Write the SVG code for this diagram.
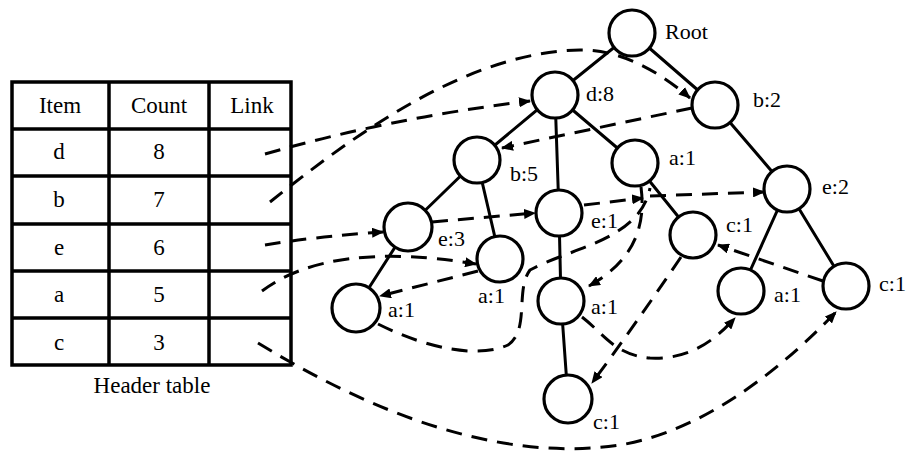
<svg xmlns="http://www.w3.org/2000/svg" width="908" height="452" viewBox="0 0 908 452">
<style>
.t{font-family:'Liberation Serif','DejaVu Serif',serif;font-size:23px;fill:#000}
.l{font-family:'Liberation Serif','DejaVu Serif',serif;font-size:22px;fill:#000}
.grid{stroke:#000;stroke-width:3.5;fill:none}
.edge{stroke:#000;stroke-width:3;fill:none}
.link{stroke:#000;stroke-width:3;fill:none;stroke-dasharray:16 10}
.arr{marker-end:url(#ah)}
.n{fill:#fff;stroke:#000;stroke-width:3.2}
</style>
<defs>
<marker id="ah" markerUnits="userSpaceOnUse" markerWidth="12" markerHeight="10" refX="11" refY="5" orient="auto">
<path d="M0,0 L12,5 L0,10 z" fill="#000"/>
</marker>
</defs>
<rect width="908" height="452" fill="#fff"/>
<g id="header-table" font-family="Liberation Serif, DejaVu Serif, serif">
<rect class="grid" x="12" y="82" width="279" height="283"/>
<path class="grid" d="M109,82V365M209,82V365M12,129H291M12,176H291M12,224H291M12,271H291M12,318H291"/>
<text class="t" x="60" y="113" text-anchor="middle">Item</text>
<text class="t" x="159" y="113" text-anchor="middle">Count</text>
<text class="t" x="252" y="113" text-anchor="middle">Link</text>
<text class="t" x="59" y="159" text-anchor="middle">d</text>
<text class="t" x="159" y="159" text-anchor="middle">8</text>
<text class="t" x="59" y="207" text-anchor="middle">b</text>
<text class="t" x="159" y="207" text-anchor="middle">7</text>
<text class="t" x="59" y="255" text-anchor="middle">e</text>
<text class="t" x="159" y="255" text-anchor="middle">6</text>
<text class="t" x="59" y="302" text-anchor="middle">a</text>
<text class="t" x="159" y="302" text-anchor="middle">5</text>
<text class="t" x="59" y="350" text-anchor="middle">c</text>
<text class="t" x="159" y="350" text-anchor="middle">3</text>
<text class="t" x="152" y="393" text-anchor="middle">Header table</text>
</g>
<g id="connectors">
<g id="tree-edges">
<path class="edge" d="M632,33L555,95M632,33L715,105M555,95L477,160M555,95L559,213M555,95L635,163M477,160L408,227M477,160L500,259M408,227L356,308M559,213L561,301M561,301L568,399M635,163L693,235M715,105L787,189M787,189L741,291M787,189L846,286"/>
</g>
<g id="node-links">
<path class="link arr" d="M265,154 Q390,118 530,101"/>
<path class="link arr" d="M270,202 C360,130 470,52 580,50 C620,49 660,72 690,98"/>
<path class="link arr" d="M692,108 L502,148"/>
<path class="link arr" d="M265,245 Q320,236 383,232"/>
<path class="link arr" d="M432,222 L535,213"/>
<path class="link arr" d="M584,205 L643,198"/>
<path class="link arr" d="M650,196 L764,192"/>
<path class="link arr" d="M262,291 Q330,240 476,264"/>
<path class="link arr" d="M478,271 L380,296"/>
<path class="link" d="M378,324 C430,350 480,358 508,345 C530,330 515,290 530,270 C570,248 640,240 650,188"/>
<path class="link arr" d="M641,187 C646,225 635,260 589,286"/>
<path class="link arr" d="M582,317 C605,335 615,355 650,358 C690,360 715,340 735,318"/>
<path class="link arr" d="M258,343 C400,430 520,460 620,445 C710,430 790,360 836,312"/>
<path class="link arr" d="M823,281 L718,245"/>
<path class="link arr" d="M681,257 Q635,325 592,383"/>
</g>
</g>
<g font-family="Liberation Serif, DejaVu Serif, serif">
<g id="root"><circle class="n" cx="632" cy="33" r="23"/><text class="l" x="665" y="39">Root</text></g>
<g id="d8"><circle class="n" cx="555" cy="95" r="23"/><text class="l" x="586" y="101">d:8</text></g>
<g id="b2"><circle class="n" cx="715" cy="105" r="23"/><text class="l" x="753" y="107">b:2</text></g>
<g id="b5"><circle class="n" cx="477" cy="160" r="23"/><text class="l" x="510" y="181">b:5</text></g>
<g id="a1-top"><circle class="n" cx="635" cy="163" r="23"/><text class="l" x="669" y="165">a:1</text></g>
<g id="e2"><circle class="n" cx="787" cy="189" r="23"/><text class="l" x="822" y="194">e:2</text></g>
<g id="e1"><circle class="n" cx="559" cy="213" r="23"/><text class="l" x="591" y="228">e:1</text></g>
<g id="e3"><circle class="n" cx="408" cy="227" r="24"/><text class="l" x="438" y="246">e:3</text></g>
<g id="c1-mid"><circle class="n" cx="693" cy="235" r="23"/><text class="l" x="726" y="232">c:1</text></g>
<g id="a1-b5"><circle class="n" cx="500" cy="259" r="23"/><text class="l" x="478" y="303">a:1</text></g>
<g id="a1-e3"><circle class="n" cx="356" cy="308" r="24"/><text class="l" x="388" y="317">a:1</text></g>
<g id="a1-e1"><circle class="n" cx="561" cy="301" r="23"/><text class="l" x="591" y="314">a:1</text></g>
<g id="a1-e2"><circle class="n" cx="741" cy="291" r="23"/><text class="l" x="774" y="302">a:1</text></g>
<g id="c1-e2"><circle class="n" cx="846" cy="286" r="23"/><text class="l" x="879" y="291">c:1</text></g>
<g id="c1-bottom"><circle class="n" cx="568" cy="399" r="24"/><text class="l" x="593" y="429">c:1</text></g>
</g>
</svg>
